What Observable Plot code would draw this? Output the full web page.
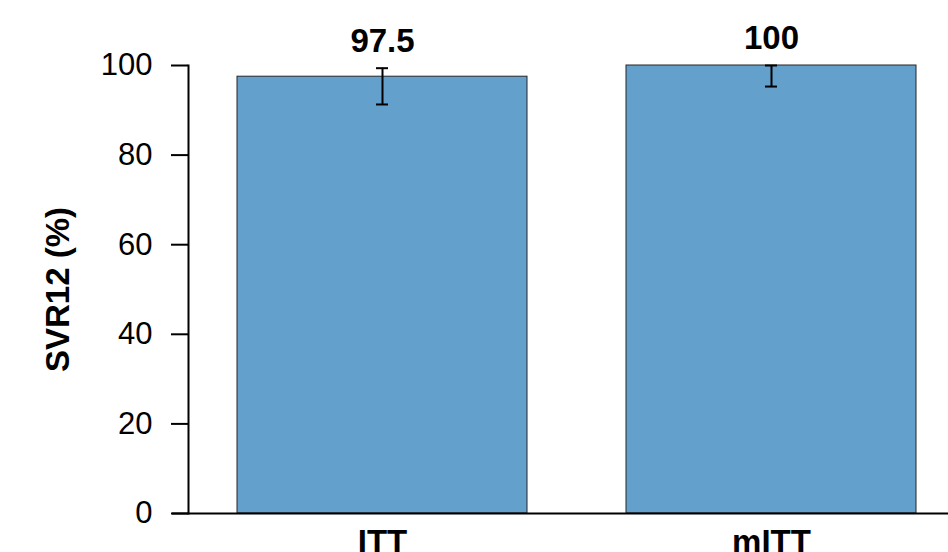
<!DOCTYPE html>
<html>
<head>
<meta charset="utf-8">
<script src="https://cdn.jsdelivr.net/npm/d3@7"></script>
<script src="https://cdn.jsdelivr.net/npm/@observablehq/plot@0.6"></script>
<style>
  html, body { margin: 0; padding: 0; background: #fff; overflow: hidden; }
  svg { display: block; }
</style>
</head>
<body>
<div id="chart"></div>
<script>
const categories = ["ITT", "mITT"];
const values = [97.5, 100];
const lower = [91.3, 95.3];
const upper = [99.4, 100];
const valueLabels = ["97.5", "100"];
const yTicks = [0, 20, 40, 60, 80, 100];
const yLabel = "SVR12 (%)";

const data = categories.map((c, i) => ({
  cat: c, value: values[i], lo: lower[i], hi: upper[i], label: valueLabels[i]
}));

const font = "'Liberation Sans', Arial, Helvetica, sans-serif";

const chart = Plot.plot({
  width: 948,
  height: 552,
  marginLeft: 188,
  marginRight: 0,
  marginTop: 65,
  marginBottom: 39,
  style: { fontFamily: font, background: "#fff", overflow: "visible" },
  x: { domain: categories, range: [188, 966], paddingInner: 0.2538, paddingOuter: 0.1256, label: null },
  y: { domain: [0, 100], label: null },
  marks: [
    Plot.barY(data, { x: "cat", y: "value", fill: "#63a0cb", stroke: "#262626", strokeWidth: 1 }),
    Plot.ruleX(data, { x: "cat", y1: "lo", y2: "hi", stroke: "#000", strokeWidth: 2 }),
    Plot.tickY(data, { x: "cat", y: "lo", stroke: "#000", strokeWidth: 2, insetLeft: 139, insetRight: 139 }),
    Plot.tickY(data, { x: "cat", y: "hi", stroke: "#000", strokeWidth: 2, insetLeft: 139, insetRight: 139 }),
    Plot.text(data, { x: "cat", y: "hi", text: "label", dy: -26.6, fontSize: 33, fontWeight: "bold", fill: "#000" }),
    Plot.axisY({ ticks: yTicks, tickSize: 17, tickPadding: 19, fontSize: 31, strokeWidth: 2, stroke: "#000", fill: "#000", label: null, tickFormat: d => String(d) }),
    Plot.axisX({ tickSize: 0, tickPadding: 16, fontSize: 33, fontWeight: "bold", fill: "#000", label: null }),
    Plot.frame({ anchor: "left", stroke: "#000", strokeWidth: 2 }),
    Plot.ruleY([0], { stroke: "#000", strokeWidth: 2, insetLeft: -16 }),
    Plot.text([yLabel], { frameAnchor: "left", textAnchor: "middle", dx: -130, rotate: -90, fontSize: 33, fontWeight: "bold", fill: "#000" })
  ]
});
document.getElementById("chart").appendChild(chart);
</script>
</body>
</html>
